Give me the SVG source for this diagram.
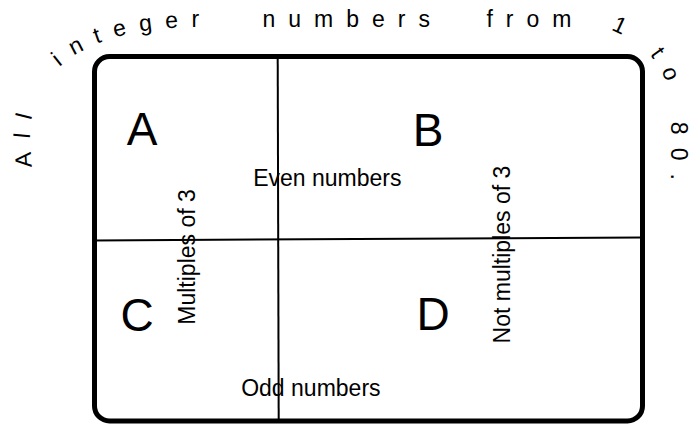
<svg xmlns="http://www.w3.org/2000/svg" width="692" height="425" viewBox="0 0 692 425">
<style>
text { font-family: "Liberation Sans", Arial, sans-serif; fill: #000; }
.lbl { font-size: 23px; }
.big { font-size: 46px; }
.arc { font-size: 23px; letter-spacing: 13px; }
.frame { fill: #fff; stroke: #000; stroke-width: 5; }
.div { stroke: #000; stroke-width: 2; fill: none; }
</style>
<defs>
<path id="arcPath" d="M 34,200 L 30,140 C 30,67 90,27 200,27 L 587,27 A 84,84 0 0 1 671,111 L 671,230" fill="none"/>
</defs>
<rect x="0" y="0" width="692" height="425" fill="#fff"/>
<g id="title">
<text class="arc"><textPath href="#arcPath" startOffset="33">All <tspan dx="24">integer</tspan> <tspan dx="31">numbers</tspan> <tspan dx="24">from</tspan> <tspan dx="7">1</tspan> <tspan dx="1">to</tspan> <tspan dx="8">80.</tspan></textPath></text>
</g>
<g id="frame">
<rect x="94.5" y="56.5" width="548" height="364.5" rx="15" class="frame"/>
</g>
<g id="connectors">
<line class="div" x1="277.7" y1="57" x2="278.7" y2="421"/>
<line class="div" x1="94" y1="240.5" x2="642" y2="237.5"/>
</g>
<g id="region-A"><text class="big" x="126.7" y="145">A</text></g>
<g id="region-B"><text class="big" x="412.7" y="146">B</text></g>
<g id="region-C"><text class="big" x="120.4" y="331">C</text></g>
<g id="region-D"><text class="big" x="416.4" y="330">D</text></g>
<g id="label-even"><text class="lbl" x="253.2" y="186">Even numbers</text></g>
<g id="label-odd"><text class="lbl" x="241.2" y="396">Odd numbers</text></g>
<g id="label-mult3"><text class="lbl" transform="translate(195,324.7) rotate(-90)">Multiples of 3</text></g>
<g id="label-notmult3"><text class="lbl" transform="translate(510,343.4) rotate(-90)">Not multiples of 3</text></g>
</svg>
